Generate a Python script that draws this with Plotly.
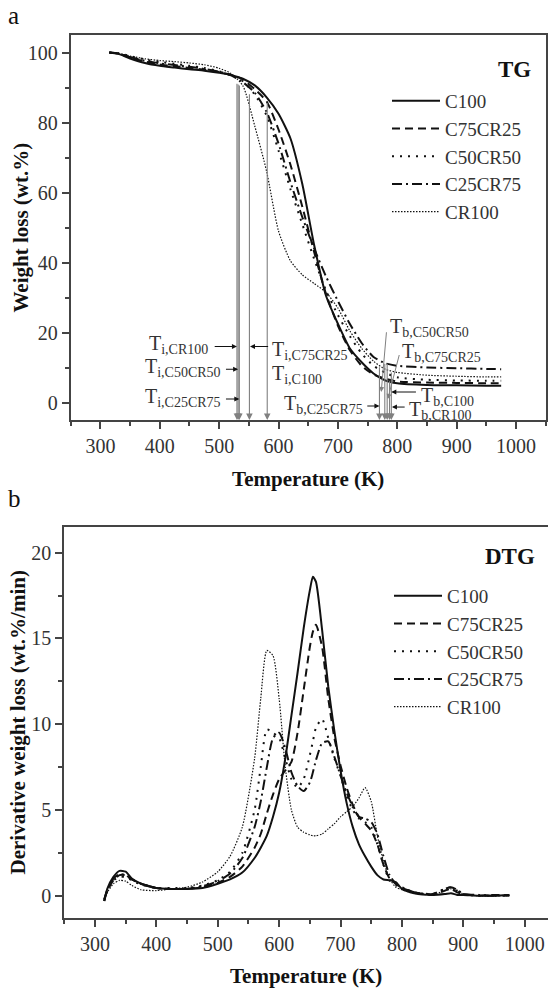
import plotly.graph_objects as go

# ---------------- data ----------------
series_names = ["C100", "C75CR25", "C50CR50", "C25CR75", "CR100"]

temp_tg = [315, 330, 350, 375, 400, 425, 450, 475, 500, 520, 540, 560, 580, 600,
           620, 640, 660, 680, 700, 720, 740, 760, 780, 800, 850, 900, 950, 975]
tg_c100 = [100, 99.6, 98.3, 97.0, 96.2, 95.7, 95.2, 94.8, 94.2, 93.6, 92.5, 90.6, 87.2, 82.5,
           75.5, 62.5, 45.0, 30.5, 22.5, 15.5, 11.5, 8.3, 6.3, 5.5, 5.0, 4.9, 4.8, 4.8]
tg_c75cr25 = [100, 99.7, 98.6, 97.4, 96.6, 96.1, 95.6, 95.1, 94.4, 93.6, 92.3, 89.5, 86.0, 78.0,
              68.0, 56.0, 43.0, 31.0, 22.0, 15.0, 10.5, 8.0, 6.8, 6.0, 5.7, 5.6, 5.5, 5.5]
tg_c50cr50 = [100, 99.8, 99.0, 98.0, 97.3, 96.8, 96.2, 95.6, 94.6, 93.5, 91.8, 88.0, 82.0, 72.0,
              61.0, 51.0, 41.0, 32.0, 25.0, 19.0, 14.0, 10.5, 8.5, 7.2, 6.5, 6.3, 6.2, 6.2]
tg_c25cr75 = [100, 99.7, 98.7, 97.6, 96.9, 96.4, 95.9, 95.3, 94.5, 93.5, 91.5, 88.5, 83.0, 74.0,
              63.0, 53.0, 44.0, 36.0, 29.0, 22.5, 17.0, 13.0, 11.2, 10.5, 10.0, 9.8, 9.6, 9.5]
tg_cr100 = [100, 99.8, 99.0, 98.2, 97.7, 97.4, 97.0, 96.5, 95.5, 94.0, 90.5, 79.0, 66.0, 49.0,
            40.5, 36.5, 34.0, 31.5, 27.0, 20.5, 15.5, 11.8, 9.5, 8.6, 7.8, 7.5, 7.3, 7.3]

temp_dtg = [315, 320, 330, 340, 350, 360, 375, 400, 425, 450, 475, 500, 520, 540, 560, 570,
            580, 590, 600, 610, 620, 630, 640, 650, 655, 660, 670, 680, 690, 700, 710, 720,
            730, 740, 750, 760, 770, 780, 790, 800, 820, 850, 870, 880, 890, 900, 925, 950, 975]
dtg_c100 = [-0.3, 0.4, 1.1, 1.45, 1.4, 1.0, 0.7, 0.45, 0.4, 0.4, 0.45, 0.7, 0.95, 1.35, 2.2, 2.8,
            3.5, 4.6, 6.0, 8.0, 10.5, 13.0, 15.6, 17.8, 18.6, 18.3, 15.5, 12.2, 9.6, 7.3, 5.4, 4.0,
            3.0, 2.3, 1.7, 1.2, 0.95, 0.9, 0.8, 0.4, 0.15, 0.05, 0.1, 0.15, 0.05, 0.05, 0.0, 0.0, 0.05]
dtg_c75cr25 = [-0.2, 0.3, 0.9, 1.2, 1.2, 0.95, 0.7, 0.45, 0.4, 0.4, 0.5, 0.75, 1.1, 1.7, 2.8, 3.6,
               4.8, 5.9, 6.8, 7.3, 7.8, 9.5, 12.0, 14.5, 15.4, 15.8, 14.5, 11.5, 9.2, 7.6, 6.3, 5.3,
               4.6, 4.2, 3.8, 3.0, 1.8, 1.0, 0.7, 0.45, 0.2, 0.05, 0.3, 0.4, 0.2, 0.1, 0.0, 0.05, 0.0]
dtg_c50cr50 = [-0.3, 0.3, 0.9, 1.1, 1.1, 0.9, 0.65, 0.45, 0.45, 0.45, 0.6, 0.9, 1.4, 2.5, 5.0, 7.5,
               9.7, 9.5, 9.2, 8.0, 6.8, 6.3, 6.8, 8.2, 9.0, 9.8, 10.3, 9.2, 8.0, 7.0, 5.8, 5.0,
               4.5, 4.3, 4.0, 3.0, 1.8, 0.9, 0.6, 0.4, 0.2, 0.1, 0.4, 0.5, 0.3, 0.1, 0.0, 0.0, 0.0]
dtg_c25cr75 = [-0.3, 0.3, 1.0, 1.25, 1.2, 0.95, 0.7, 0.45, 0.4, 0.4, 0.55, 0.85, 1.3, 2.2, 4.0, 5.5,
               7.5, 9.2, 9.5, 8.6, 7.2, 6.4, 6.1, 6.6, 7.2, 7.9, 8.9, 9.0, 8.1, 7.0, 6.0, 5.2,
               4.6, 4.5, 4.3, 3.6, 2.3, 1.2, 0.7, 0.5, 0.2, 0.1, 0.4, 0.5, 0.35, 0.1, 0.05, 0.0, 0.05]
dtg_cr100 = [-0.2, 0.2, 0.7, 0.9, 0.85, 0.6, 0.35, 0.3, 0.4, 0.5, 0.8, 1.4, 2.3, 4.0, 8.0, 11.5,
             14.3, 14.0, 11.5, 7.5, 5.0, 4.0, 3.7, 3.55, 3.5, 3.5, 3.6, 3.9, 4.2, 4.6, 4.9, 5.2,
             5.7, 6.3, 5.5, 3.5, 2.0, 1.0, 0.5, 0.35, 0.15, 0.05, 0.3, 0.4, 0.3, 0.1, 0.0, 0.0, 0.0]

# characteristic temperatures (K) and the weight level where each marker line starts
ti_names = ["CR100", "C50CR50", "C25CR75", "C75CR25", "C100"]
ti_temps = [530, 532, 534, 551, 581]
ti_tops = [91.5, 91.3, 91.0, 88.5, 86.0]
tb_names = ["C25CR75", "C50CR50", "C75CR25", "C100", "CR100"]
tb_temps = [770, 779, 783, 787, 790]
tb_tops = [10.5, 11.5, 11.5, 6.5, 9.0]

x_ticks = [300, 400, 500, 600, 700, 800, 900, 1000]
tg_ticks = [0, 20, 40, 60, 80, 100]
dtg_ticks = [0, 5, 10, 15, 20]

# ---------------- styles ----------------
W, H = 548, 989
FONT = "Liberation Serif, Times New Roman, serif"
INK = "#111111"
TXT = "#333333"
AX = "#444444"
GRAY = "#808080"

styles = {
    "C100": dict(dash="solid", width=2),
    "C75CR25": dict(dash="8px,5px", width=2),
    "C50CR50": dict(dash="2px,6px", width=2),
    "C25CR75": dict(dash="10px,4px,2px,4px", width=2),
    "CR100": dict(dash="1.5px,1.5px", width=1.2),
}

tg_data = [tg_c100, tg_c75cr25, tg_c50cr50, tg_c25cr75, tg_cr100]
dtg_data = [dtg_c100, dtg_c75cr25, dtg_c50cr50, dtg_c25cr75, dtg_cr100]

fig = go.Figure()
for name, vals in zip(series_names, tg_data):
    st = styles[name]
    fig.add_trace(go.Scatter(x=temp_tg, y=vals, mode="lines", name=name,
                             line=dict(color=INK, width=st["width"], dash=st["dash"],
                                       shape="spline", smoothing=0.6),
                             xaxis="x", yaxis="y", legend="legend",
                             legendgroup="a" + name))
for name, vals in zip(series_names, dtg_data):
    st = styles[name]
    fig.add_trace(go.Scatter(x=temp_dtg, y=vals, mode="lines", name=name,
                             line=dict(color=INK, width=st["width"], dash=st["dash"],
                                       shape="spline", smoothing=0.6),
                             xaxis="x2", yaxis="y2", legend="legend2",
                             legendgroup="b" + name))

def px_x(p):
    return p / W

def px_y(p):
    return 1 - p / H

TICK_SIZE = 20
TITLE_SIZE = 21

axis_common = dict(showgrid=False, zeroline=False, showline=True, linecolor=AX, linewidth=2,
                   ticks="outside", ticklen=7, tickwidth=1.5, tickcolor=AX,
                   tickfont=dict(family=FONT, size=TICK_SIZE, color=TXT))
title_font = dict(family=FONT, size=TITLE_SIZE, color=INK)

fig.update_layout(
    width=W, height=H, margin=dict(l=0, r=0, t=0, b=0),
    paper_bgcolor="white", plot_bgcolor="white",
    font=dict(family=FONT, color=TXT),
    xaxis=dict(domain=[px_x(70.7), px_x(545.7)], range=[250, 1050], anchor="y",
               tickvals=x_ticks, mirror=True,
               minor=dict(ticks="outside", ticklen=4, dtick=50, tick0=0, tickcolor=AX),
               title=dict(text="<b>Temperature (K)</b>", font=title_font),
               **axis_common),
    yaxis=dict(domain=[px_y(420), px_y(35)], range=[-5, 105], anchor="x",
               tickvals=tg_ticks, mirror=True,
               minor=dict(ticks="outside", ticklen=4, dtick=10, tick0=0, tickcolor=AX),
               **axis_common),
    xaxis2=dict(domain=[px_x(64.3), 1.0], range=[250, 1038], anchor="y2",
                tickvals=x_ticks, mirror=True,
                minor=dict(ticks="outside", ticklen=4, dtick=50, tick0=0, tickcolor=AX),
                title=dict(text="<b>Temperature (K)</b>", font=title_font),
                **axis_common),
    yaxis2=dict(domain=[px_y(917.7), px_y(527.3)], range=[-1.28, 21.48], anchor="x2",
                tickvals=dtg_ticks, mirror=False,
                minor=dict(ticks="outside", ticklen=4, dtick=2.5, tick0=0, tickcolor=AX),
                **axis_common),
    legend=dict(x=px_x(387), y=px_y(82), xanchor="left", yanchor="top",
                bgcolor="rgba(0,0,0,0)", itemwidth=48, tracegroupgap=0,
                font=dict(family=FONT, size=19, color=TXT)),
    legend2=dict(x=px_x(389), y=px_y(577), xanchor="left", yanchor="top",
                 bgcolor="rgba(0,0,0,0)", itemwidth=48, tracegroupgap=0,
                 font=dict(family=FONT, size=19, color=TXT)),
)

ann = []
# y-axis titles
ann.append(dict(text="<b>Weight loss (wt.%)</b>", x=px_x(20), y=px_y(227.5),
                xref="paper", yref="paper", xanchor="center", yanchor="middle",
                textangle=-90, showarrow=False, font=title_font))
ann.append(dict(text="<b>Derivative weight loss (wt.%/min)</b>", x=px_x(17), y=px_y(722.5),
                xref="paper", yref="paper", xanchor="center", yanchor="middle",
                textangle=-90, showarrow=False, font=title_font))
# panel letters and panel names
ann.append(dict(text="a", x=px_x(6), y=px_y(16), xref="paper", yref="paper",
                xanchor="left", yanchor="middle", showarrow=False,
                font=dict(family=FONT, size=25, color=INK)))
ann.append(dict(text="b", x=px_x(6), y=px_y(498), xref="paper", yref="paper",
                xanchor="left", yanchor="middle", showarrow=False,
                font=dict(family=FONT, size=25, color=INK)))
ann.append(dict(text="<b>TG</b>", x=px_x(533), y=px_y(70), xref="paper", yref="paper",
                xanchor="right", yanchor="middle", showarrow=False,
                font=dict(family=FONT, size=23, color=INK)))
ann.append(dict(text="<b>DTG</b>", x=px_x(537), y=px_y(556), xref="paper", yref="paper",
                xanchor="right", yanchor="middle", showarrow=False,
                font=dict(family=FONT, size=23, color=INK)))

# vertical marker lines down to the temperature axis
for t, top in zip(ti_temps + tb_temps, ti_tops + tb_tops):
    ann.append(dict(text="", x=t, y=-5, ax=t, ay=top, xref="x", yref="y", axref="x", ayref="y",
                    showarrow=True, arrowhead=2, arrowsize=1.2, arrowwidth=1.1, arrowcolor=GRAY))

lab_font = dict(family=FONT, size=20, color=TXT)

def label(name, kind, tx, ty, anchor):
    ann.append(dict(text="T<sub>%s,%s</sub>" % (kind, name), x=tx, y=ty, xref="x", yref="y",
                    xanchor=anchor, yanchor="middle", showarrow=False, font=lab_font))

def pointer(x0, y0, x1, y1, color=INK):
    ann.append(dict(text="", x=x1, y=y1, ax=x0, ay=y0, xref="x", yref="y", axref="x", ayref="y",
                    showarrow=True, arrowhead=2, arrowsize=1, arrowwidth=1, arrowcolor=color))

label("CR100", "i", 484, 16.5, "right");   pointer(490, 16, ti_temps[0], 16)
label("C75CR25", "i", 586, 15.0, "left");  pointer(585, 16, ti_temps[3] + 1, 16)
label("C50CR50", "i", 507, 10.0, "right"); pointer(509, 9.5, ti_temps[1], 9.5)
label("C100", "i", 586, 8.0, "left")
label("C25CR75", "i", 507, 1.5, "right");  pointer(509, 1, ti_temps[2], 1)
label("C50CR50", "b", 784, 21.3, "left");  pointer(782, 20.5, tb_temps[1] - 6, 3, GRAY)
label("C75CR25", "b", 804, 14.3, "left");  pointer(804, 14, tb_temps[2] + 1, 1, GRAY)
label("C100", "b", 836, 1.6, "left");      pointer(834, 3, tb_temps[3] + 3, 3)
label("C25CR75", "b", 746, -0.5, "right"); pointer(747, -1, tb_temps[0], -1)
label("CR100", "b", 816, -2.4, "left");    pointer(815, -1.3, tb_temps[4] + 1, -1.3)

fig.update_layout(annotations=ann)
fig.write_html("out.html", config={"displayModeBar": False},
               post_script="document.body.style.margin='0';document.body.style.overflow='hidden';")
